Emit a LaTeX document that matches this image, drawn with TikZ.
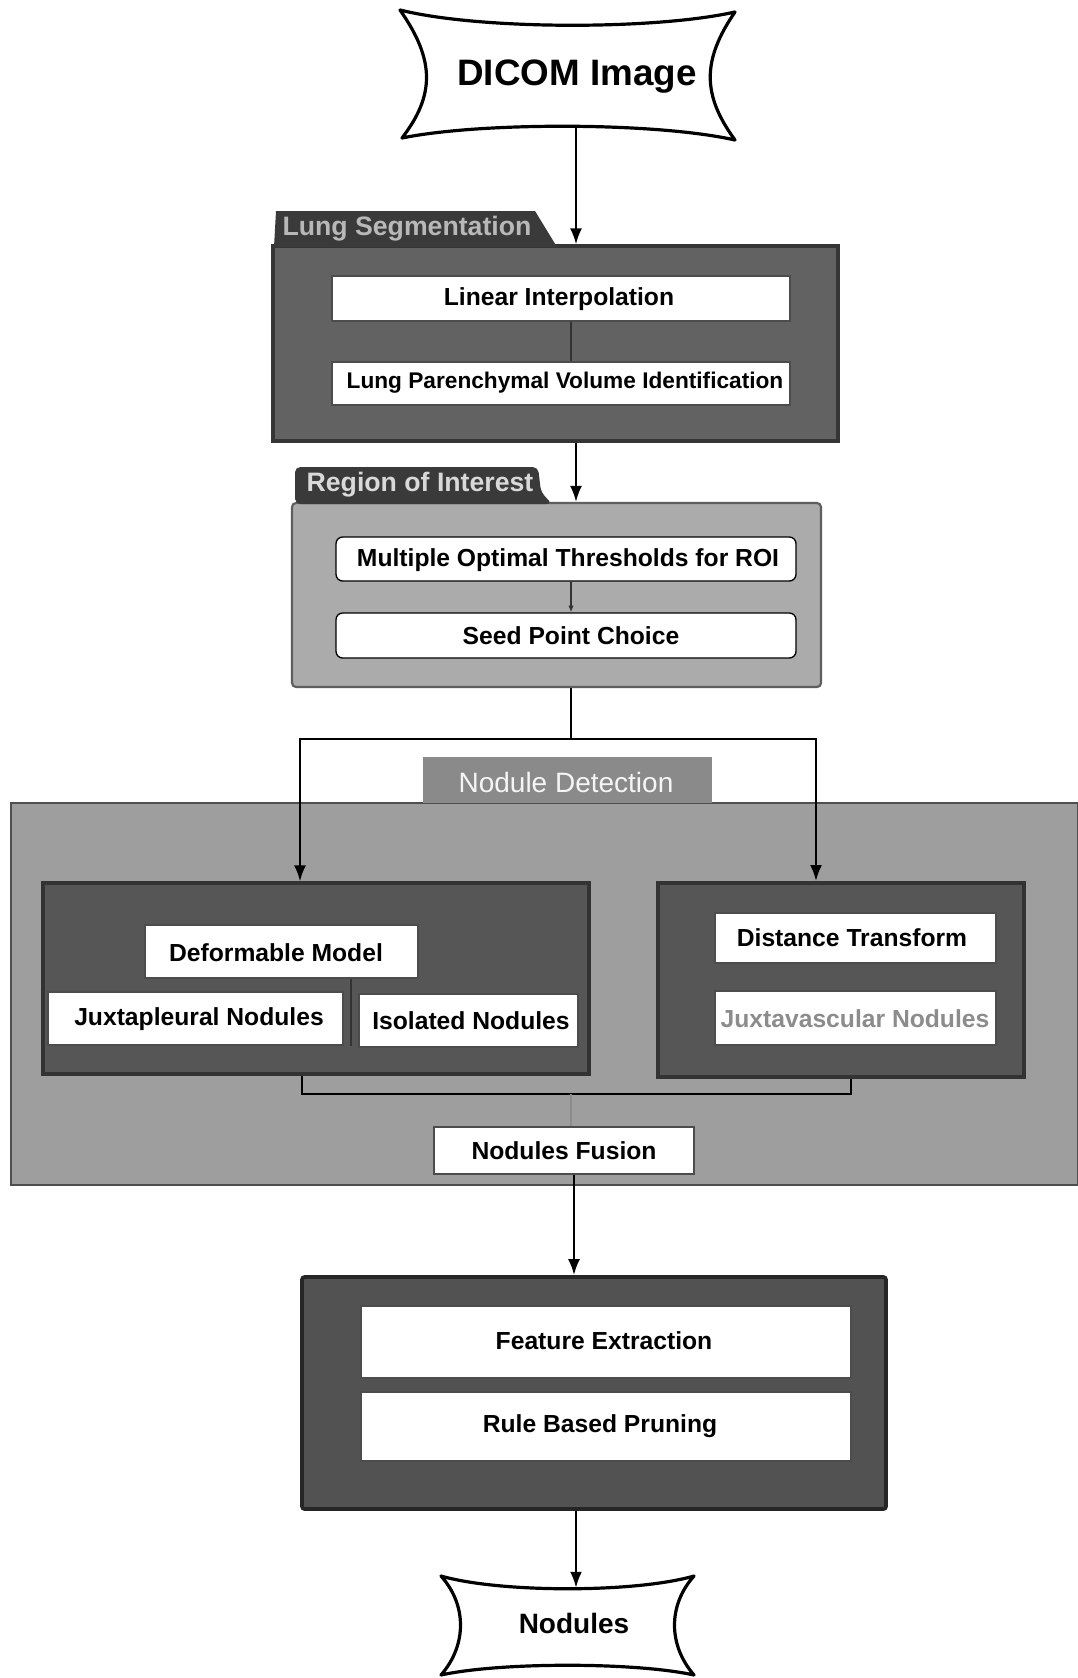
\documentclass[tikz,border=0pt]{standalone}
\usepackage{fontspec}
\setmainfont{Liberation Sans}
\usetikzlibrary{arrows.meta,fit}
\definecolor{tabdark}{HTML}{3A3A3A}
\definecolor{lsfill}{HTML}{626262}
\definecolor{lsdraw}{HTML}{353535}
\definecolor{roifill}{HTML}{ABABAB}
\definecolor{roidraw}{HTML}{5E5E5E}
\definecolor{ndfill}{HTML}{9E9E9E}
\definecolor{nddraw}{HTML}{4E4E4E}
\definecolor{ndtabfill}{HTML}{8A8A8A}
\definecolor{innerfill}{HTML}{565656}
\definecolor{innerdraw}{HTML}{333333}
\definecolor{ffill}{HTML}{525252}
\definecolor{fdraw}{HTML}{262626}
\begin{document}
\begin{tikzpicture}[x=0.75pt,y=-0.75pt,
  boxtext/.style={font=\bfseries\fontsize{18.5}{22}\selectfont, text=black, inner sep=0pt},
  wbox/.style={draw=gray!60!black, line width=0.8pt, fill=white, inner sep=0pt},
  rwbox/.style={wbox, draw=black, line width=1pt, rounded corners=5pt},
  panel/.style={inner sep=0pt},
  arr/.style={draw=black, line width=1.7pt, -{Latex[length=12pt,width=9pt]}},
  link/.style={draw=black, line width=1.4pt},
  thinlink/.style={draw=black!80, line width=1pt},
  tabtext/.style={font=\bfseries\fontsize{20}{24}\selectfont, inner sep=0pt}
]
\useasboundingbox (0,0) rectangle (1078,1678);
\fill[white] (0,0) rectangle (1078,1678);

% axis coordinates
\coordinate (ax) at (571,0);
\coordinate (aa) at (576,0);
\coordinate (ab) at (574,0);

% ---------- DICOM Image ----------
\draw[line width=2.4pt, fill=white, line join=round]
  (400,10) .. controls (480,30) and (655,30) .. (735,12)
  .. controls (702,60) and (702,95) .. (735,140)
  .. controls (655,122) and (480,122) .. (402,138)
  .. controls (435,95) and (435,60) .. cycle;
\node[font=\bfseries\fontsize{27.6}{32}\selectfont, minimum height=75pt, inner sep=0pt] (dicom) at (577,77) {DICOM Image};

% ---------- Lung Segmentation ----------
\node[panel, fit={(273,246) (838,441)}, fill=lsfill, draw=lsdraw, line width=2.4pt] (lungseg) {};
\fill[tabdark] (274,247) -- (276,211) -- (535,211) -- (557,247) -- cycle;
\node[tabtext, text=black!28] (lstab) at (407,229) {Lung Segmentation};
\node[wbox, fit={(332,276) (790,321)}] (li) {};
\node[boxtext] (litext) at (559,299) {Linear Interpolation};
\node[wbox, fit={(332,362) (790,405)}] (lpvi) {};
\node[boxtext, font=\bfseries\fontsize{17}{20}\selectfont] (lpvitext) at (565,383) {Lung Parenchymal Volume Identification};
\draw[thinlink] (li.south -| ax) -- (lpvi.north -| ax);

% ---------- Region of Interest ----------
\node[panel, fit={(292,503) (821,687)}, fill=roifill, draw=roidraw, line width=1.6pt, rounded corners=3pt] (roi) {};
\fill[tabdark, rounded corners=4pt] (295,504) -- (295,467) -- (538,467) -- (541,492) -- (552,504) -- cycle;
\node[tabtext, text=black!15] (roitab) at (420,485) {Region of Interest};
\node[rwbox, fit={(336,537) (796,581)}] (mot) {};
\node[boxtext] (mottext) at (568,560) {Multiple Optimal Thresholds for ROI};
\node[rwbox, fit={(336,613) (796,658)}] (spc) {};
\node[boxtext] (spctext) at (571,636) {Seed Point Choice};
\draw[thinlink, -{Latex[length=5pt,width=4pt]}] (mot.south -| ax) -- (spc.north -| ax);

% ---------- Nodule Detection ----------
\node[panel, fit={(11,803) (1078,1185)}, fill=ndfill, draw=nddraw, line width=1.6pt] (nd) {};
\node[panel, fit={(423,757) (712,803)}, fill=ndtabfill] (ndtab) {};
\node[inner sep=0pt, font=\fontsize{21}{24}\selectfont, text=black!4] (ndtabtext) at (566,782) {Nodule Detection};
\node[panel, fit={(43,883) (589,1074)}, fill=innerfill, draw=innerdraw, line width=2.4pt] (leftbox) {};
\node[panel, fit={(658,883) (1024,1077)}, fill=innerfill, draw=innerdraw, line width=3pt] (rightbox) {};
\node[wbox, fit={(145,925) (418,978)}] (dm) {};
\node[boxtext] (dmtext) at (276,953) {Deformable Model};
\node[wbox, fit={(48,992) (343,1045)}] (jp) {};
\node[boxtext] (jptext) at (199,1019) {Juxtapleural Nodules};
\node[wbox, fit={(359,994) (578,1047)}] (iso) {};
\node[boxtext] (isotext) at (471,1021) {Isolated Nodules};
\node[wbox, fit={(715,913) (996,963)}] (dt) {};
\node[boxtext] (dttext) at (852,938) {Distance Transform};
\node[wbox, fit={(715,991) (996,1045)}] (jv) {};
\node[boxtext, text=black!45] (jvtext) at (855,1019) {Juxtavascular Nodules};
\node[wbox, fit={(434,1127) (694,1174)}] (nf) {};
\node[boxtext] (nftext) at (564,1151) {Nodules Fusion};
\coordinate (gapx) at (351,0);
\draw[draw=innerdraw, line width=1.4pt] (dm.south -| gapx) -- (gapx |- jp.south);

% split arrows from ROI
\coordinate (split) at (571,739);
\coordinate (lx) at (300,739);
\coordinate (rx) at (816,739);
\draw[link] (roi.south -| split) -- (split);
\draw[arr] (split) -- (lx) -- (leftbox.north -| lx);
\draw[arr] (split) -- (rx) -- (rightbox.north -| rx);

% bracket into Nodules Fusion
\coordinate (brkl) at (302,1094);
\coordinate (brkr) at (851,1094);
\draw[link, line width=1.8pt] (leftbox.south -| brkl) -- (brkl) -- (brkr) -- (rightbox.south -| brkr);
\draw[draw=black!45, line width=1pt] (brkl -| ax) -- (nf.north -| ax);

% ---------- Feature box ----------
\node[panel, fit={(302,1277) (886,1509)}, fill=ffill, draw=fdraw, line width=2.8pt, rounded corners=2pt] (fbox) {};
\node[wbox, fit={(361,1306) (851,1378)}] (fe) {};
\node[boxtext] (fetext) at (604,1341) {Feature Extraction};
\node[wbox, fit={(361,1392) (851,1461)}] (rbp) {};
\node[boxtext] (rbptext) at (600,1426) {Rule Based Pruning};

% ---------- Nodules ----------
\draw[line width=2.4pt, fill=white, line join=round]
  (441,1576) .. controls (500,1593) and (635,1593) .. (694,1576)
  .. controls (668,1605) and (668,1645) .. (694,1675)
  .. controls (635,1662) and (500,1662) .. (441,1675)
  .. controls (467,1645) and (467,1605) .. cycle;
\node[font=\bfseries\fontsize{21}{24}\selectfont, minimum height=52.5pt, inner sep=0pt] (nodules) at (574,1623) {Nodules};

% main arrows
\draw[arr] (dicom.south -| aa) -- (lungseg.north -| aa);
\draw[arr] (lungseg.south -| aa) -- (roi.north -| aa);
\draw[arr] (nf.south -| ab) -- (fbox.north -| ab);
\draw[arr] (fbox.south -| aa) -- (nodules.north -| aa);
\end{tikzpicture}
\end{document}
